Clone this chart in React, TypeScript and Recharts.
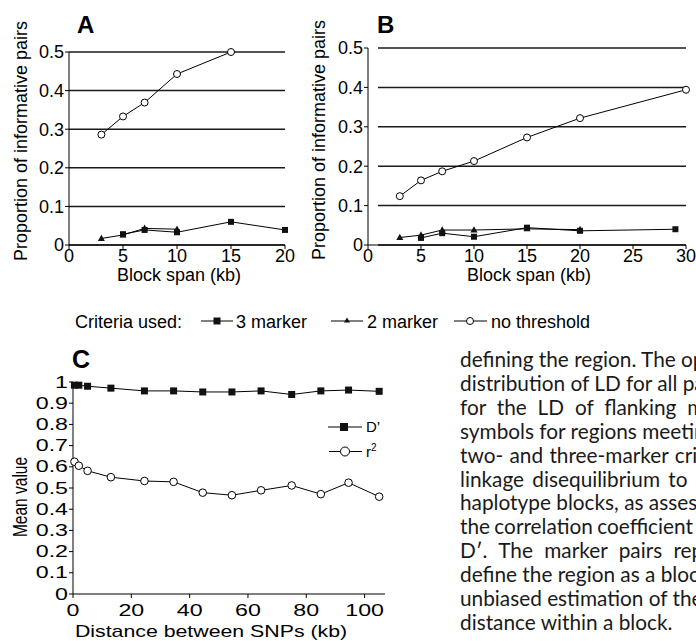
import React from 'react';
import { LineChart, Line, XAxis, YAxis, CartesianGrid } from 'recharts';

const FONT = '"Liberation Sans", Arial, Helvetica, sans-serif';
const TEXT_FONT = 'Lato, "Open Sans", sans-serif';

// ---------- Panel A ----------
const aNoThresholdSpan = [3, 5, 7, 10, 15];
const aNoThreshold = [0.286, 0.333, 0.369, 0.443, 0.5];
const a3MarkerSpan = [5, 7, 10, 15, 20];
const a3Marker = [0.028, 0.039, 0.033, 0.06, 0.039];
const a2MarkerSpan = [3, 5, 7, 10];
const a2Marker = [0.017, 0.026, 0.043, 0.041];
const aXTicks = [0, 5, 10, 15, 20];
const abYTicks = [0, 0.1, 0.2, 0.3, 0.4, 0.5];

// ---------- Panel B ----------
const bNoThresholdSpan = [3, 5, 7, 10, 15, 20, 30];
const bNoThreshold = [0.124, 0.164, 0.187, 0.213, 0.273, 0.322, 0.394];
const b3MarkerSpan = [5, 7, 10, 15, 20, 29];
const b3Marker = [0.018, 0.03, 0.021, 0.044, 0.036, 0.04];
const b2MarkerSpan = [3, 5, 7, 10, 15, 20];
const b2Marker = [0.019, 0.025, 0.038, 0.038, 0.041, 0.039];
const bXTicks = [0, 5, 10, 15, 20, 25, 30];

// ---------- Panel C ----------
const cDistance = [0.5, 2, 5, 13, 24.5, 34.5, 44.5, 54.5, 64.5, 75, 85, 94.5, 105];
const cDPrime = [0.985, 0.985, 0.98, 0.971, 0.958, 0.958, 0.953, 0.953, 0.958, 0.941, 0.958, 0.962, 0.956];
const cR2 = [0.624, 0.605, 0.581, 0.551, 0.533, 0.529, 0.478, 0.466, 0.489, 0.512, 0.471, 0.525, 0.459];
const cXTicks = [0, 20, 40, 60, 80, 100];
const cYTicks = [0, 0.1, 0.2, 0.3, 0.4, 0.5, 0.6, 0.7, 0.8, 0.9, 1];

// ---------- Text ----------
const legendTitle = 'Criteria used:';
const legendLabels = ['3 marker', '2 marker', 'no threshold'];
const paragraphLines = [
  { text: 'defining the region. The op', ws: 0 },
  { text: 'distribution of LD for all pa', ws: 0 },
  { text: 'for the LD of flanking m', ws: 5.5 },
  { text: 'symbols for regions meetin', ws: 0 },
  { text: 'two- and three-marker crit', ws: 1 },
  { text: 'linkage disequilibrium to', ws: 3 },
  { text: 'haplotype blocks, as assess', ws: 0 },
  { text: 'the correlation coefficient (', ws: -1 },
  { text: 'D\u2032. The marker pairs rep', ws: 6 },
  { text: 'define the region as a bloc', ws: 0 },
  { text: 'unbiased estimation of the', ws: 0 },
  { text: 'distance within a block.', ws: 0 },
];

const toPoints = (xs: number[], ys: number[]) => xs.map((x, i) => ({ x, y: ys[i] }));

const fmt = (v: number) => (v === 0 ? '0' : v === 1 ? '1' : String(v));

const squareDot = (size: number) => (p: any) => {
  const { cx, cy, index } = p;
  if (cx == null || cy == null) return <g key={`s${index}`} />;
  return <rect key={`s${index}`} x={cx - size / 2} y={cy - size / 2} width={size} height={size} fill="#111" />;
};
const triangleDot = (size: number) => (p: any) => {
  const { cx, cy, index } = p;
  if (cx == null || cy == null) return <g key={`t${index}`} />;
  const h = size * 0.9;
  return (
    <polygon
      key={`t${index}`}
      points={`${cx},${cy - h * 0.6} ${cx - size / 2},${cy + h * 0.4} ${cx + size / 2},${cy + h * 0.4}`}
      fill="#111"
    />
  );
};
const circleDot = (r: number) => (p: any) => {
  const { cx, cy, index } = p;
  if (cx == null || cy == null) return <g key={`c${index}`} />;
  return <circle key={`c${index}`} cx={cx} cy={cy} r={r} fill="#fff" stroke="#000" strokeWidth={1} />;
};

const tickStyle = { fill: '#000', fontSize: 18, fontFamily: FONT };
const axisLine = { stroke: '#000', strokeWidth: 1 };

const C_STRETCH = 1.45;
const CYTick = (props: any) => {
  const { x, y, payload } = props;
  return (
    <g transform={`translate(${x},${y}) scale(${C_STRETCH},1)`}>
      <text x={0} y={0} dy="0.35em" textAnchor="end" fontSize={16} fontFamily={FONT} fill="#000">
        {fmt(payload.value)}
      </text>
    </g>
  );
};
const CXTick = (props: any) => {
  const { x, y, payload } = props;
  return (
    <g transform={`translate(${x},${y}) scale(${C_STRETCH},1)`}>
      <text x={0} y={0} dy="0.71em" textAnchor="middle" fontSize={16} fontFamily={FONT} fill="#000">
        {fmt(payload.value)}
      </text>
    </g>
  );
};

const PanelA = () => (
  <LineChart width={300} height={290} margin={{ top: 52, right: 15, left: 0, bottom: 0 }}>
    <CartesianGrid vertical={false} stroke="#1a1a1a" strokeWidth={1.5} />
    <XAxis
      type="number"
      dataKey="x"
      domain={[0, 20]}
      ticks={aXTicks}
      interval={0}
      height={45}
      tick={tickStyle}
      tickSize={4}
      tickMargin={0}
      axisLine={axisLine}
      tickLine={axisLine}
    />
    <YAxis
      type="number"
      dataKey="y"
      domain={[0, 0.5]}
      ticks={abYTicks}
      interval={0}
      width={69}
      tick={tickStyle}
      tickSize={4}
      tickMargin={1}
      tickFormatter={fmt}
      axisLine={axisLine}
      tickLine={axisLine}
    />
    <Line data={toPoints(aNoThresholdSpan, aNoThreshold)} dataKey="y" stroke="#000" strokeWidth={1} dot={circleDot(3.5)} isAnimationActive={false} />
    <Line data={toPoints(a2MarkerSpan, a2Marker)} dataKey="y" stroke="#000" strokeWidth={1} dot={triangleDot(7)} isAnimationActive={false} />
    <Line data={toPoints(a3MarkerSpan, a3Marker)} dataKey="y" stroke="#000" strokeWidth={1} dot={squareDot(6)} isAnimationActive={false} />
  </LineChart>
);

const PanelB = () => (
  <LineChart width={396} height={290} margin={{ top: 48, right: 10, left: 0, bottom: 0 }}>
    <CartesianGrid vertical={false} stroke="#1a1a1a" strokeWidth={1.5} x={78} width={308} />
    <XAxis
      type="number"
      dataKey="x"
      domain={[0, 30]}
      ticks={bXTicks}
      interval={0}
      height={45}
      tick={tickStyle}
      tickSize={4}
      tickMargin={0}
      axisLine={axisLine}
      tickLine={axisLine}
    />
    <YAxis
      type="number"
      dataKey="y"
      domain={[0, 0.5]}
      ticks={abYTicks}
      interval={0}
      width={68}
      tick={tickStyle}
      tickSize={4}
      tickMargin={1}
      tickFormatter={fmt}
      axisLine={axisLine}
      tickLine={axisLine}
    />
    <Line data={toPoints(bNoThresholdSpan, bNoThreshold)} dataKey="y" stroke="#000" strokeWidth={1} dot={circleDot(3.5)} isAnimationActive={false} />
    <Line data={toPoints(b2MarkerSpan, b2Marker)} dataKey="y" stroke="#000" strokeWidth={1} dot={triangleDot(7)} isAnimationActive={false} />
    <Line data={toPoints(b3MarkerSpan, b3Marker)} dataKey="y" stroke="#000" strokeWidth={1} dot={squareDot(6)} isAnimationActive={false} />
  </LineChart>
);

const PanelC = () => (
  <LineChart width={400} height={281} margin={{ top: 22, right: 15, left: 0, bottom: 0 }}>
    <XAxis
      type="number"
      dataKey="x"
      domain={[0, 107]}
      ticks={cXTicks}
      interval={0}
      height={47}
      tick={<CXTick />}
      tickSize={4}
      tickMargin={7}
      axisLine={axisLine}
      tickLine={axisLine}
    />
    <YAxis
      type="number"
      dataKey="y"
      domain={[0, 1]}
      ticks={cYTicks}
      interval={0}
      width={73}
      tick={<CYTick />}
      tickSize={4}
      tickMargin={1}
      axisLine={axisLine}
      tickLine={axisLine}
    />
    <Line data={toPoints(cDistance, cDPrime)} dataKey="y" stroke="#000" strokeWidth={1} dot={squareDot(7)} isAnimationActive={false} />
    <Line data={toPoints(cDistance, cR2)} dataKey="y" stroke="#000" strokeWidth={1} dot={circleDot(3.8)} isAnimationActive={false} />
  </LineChart>
);

const Overlay = () => (
  <svg width={696} height={641} style={{ position: 'absolute', left: 0, top: 0, pointerEvents: 'none' }}>
    {/* panel letters */}
    <text x={77} y={33} fontSize={24} fontWeight="bold" fontFamily={FONT} fill="#000">A</text>
    <text x={377} y={33} fontSize={24} fontWeight="bold" fontFamily={FONT} fill="#000">B</text>
    <text x={72} y={368} fontSize={25} fontWeight="bold" fontFamily={FONT} fill="#000">C</text>

    {/* axis titles A */}
    <text x={0} y={0} transform="translate(27,141) rotate(-90)" textAnchor="middle" fontSize={18} fontFamily={FONT} fill="#000">
      Proportion of informative pairs
    </text>
    <text x={179} y={281} textAnchor="middle" fontSize={18} fontFamily={FONT} fill="#000">Block span (kb)</text>
    {/* axis titles B */}
    <text x={0} y={0} transform="translate(325,140) rotate(-90)" textAnchor="middle" fontSize={18} fontFamily={FONT} fill="#000">
      Proportion of informative pairs
    </text>
    <text x={529} y={281} textAnchor="middle" fontSize={18} fontFamily={FONT} fill="#000">Block span (kb)</text>

    {/* legend row */}
    <text x={75} y={327.5} fontSize={18} fontFamily={FONT} fill="#000">{legendTitle}</text>
    <line x1={201} y1={321} x2={233} y2={321} stroke="#000" strokeWidth={1} />
    <rect x={213.5} y={317.5} width={7} height={7} fill="#111" />
    <text x={236} y={327.5} fontSize={18} fontFamily={FONT} fill="#000">{legendLabels[0]}</text>
    <line x1={331} y1={321} x2={363} y2={321} stroke="#000" strokeWidth={1} />
    <polygon points="347,317.5 344,322.5 350,322.5" fill="#111" />
    <text x={367} y={327.5} fontSize={18} fontFamily={FONT} fill="#000">{legendLabels[1]}</text>
    <line x1={454} y1={321} x2={487} y2={321} stroke="#000" strokeWidth={1} />
    <circle cx={470} cy={321} r={3.5} fill="#fff" stroke="#000" strokeWidth={1} />
    <text x={491} y={327.5} fontSize={18} fontFamily={FONT} fill="#000">{legendLabels[2]}</text>

    {/* axis titles C */}
    <g transform={`translate(27,497) scale(1.35,1) rotate(-90)`}>
      <text x={0} y={0} textAnchor="middle" fontSize={15.5} fontFamily={FONT} fill="#000">Mean value</text>
    </g>
    <g transform={`translate(211,637) scale(1.3,1)`}>
      <text x={0} y={0} textAnchor="middle" fontSize={16.4} fontFamily={FONT} fill="#000">Distance between SNPs (kb)</text>
    </g>

    {/* legend C */}
    <line x1={328} y1={427} x2={362} y2={427} stroke="#000" strokeWidth={1} />
    <rect x={340} y={423} width={8} height={8} fill="#111" />
    <text x={366} y={432} fontSize={15} fontFamily={FONT} fill="#000">D’</text>
    <line x1={329} y1={451.5} x2={362} y2={451.5} stroke="#000" strokeWidth={1} />
    <circle cx={345} cy={451.5} r={4.5} fill="#fff" stroke="#000" strokeWidth={1} />
    <text x={366} y={456.5} fontSize={15} fontFamily={FONT} fill="#000">
      r<tspan dy={-6} fontSize={10}>2</tspan>
    </text>
  </svg>
);

export default function App() {
  return (
    <div
      style={{
        position: 'absolute',
        left: 0,
        top: 0,
        width: 696,
        height: 641,
        overflow: 'hidden',
        background: '#fff',
        fontFamily: FONT,
      }}
    >
      <div style={{ position: 'absolute', left: 0, top: 0 }}>
        <PanelA />
      </div>
      <div style={{ position: 'absolute', left: 300, top: 0 }}>
        <PanelB />
      </div>
      <div style={{ position: 'absolute', left: 0, top: 360 }}>
        <PanelC />
      </div>
      <Overlay />
      <div
        style={{
          position: 'absolute',
          left: 460,
          top: 347,
          fontFamily: TEXT_FONT,
          fontSize: 20.8,
          lineHeight: '23.9px',
          color: '#1a1a1a',
          whiteSpace: 'nowrap',
        }}
      >
        {paragraphLines.map((l, i) => (
          <div key={i} style={{ wordSpacing: l.ws }}>
            {l.text}
          </div>
        ))}
      </div>
    </div>
  );
}
